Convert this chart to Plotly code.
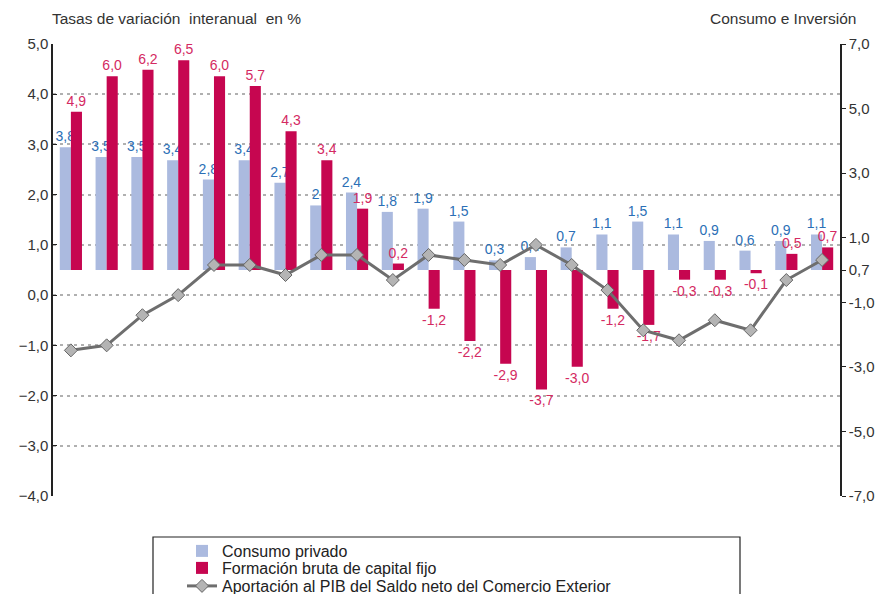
import plotly.graph_objects as go

categories = [str(i) for i in range(1, 23)]
consumo = [3.8, 3.5, 3.5, 3.4, 2.8, 3.4, 2.7, 2.0, 2.4, 1.8, 1.9, 1.5, 0.3, 0.4, 0.7, 1.1, 1.5, 1.1, 0.9, 0.6, 0.9, 1.1]
consumo_labels = ["3,8", "3,5", "3,5", "3,4", "2,8", "3,4", "2,7", "2", "2,4", "1,8", "1,9", "1,5", "0,3", "0,4", "0,7", "1,1", "1,5", "1,1", "0,9", "0,6", "0,9", "1,1"]
fbcf = [4.9, 6.0, 6.2, 6.5, 6.0, 5.7, 4.3, 3.4, 1.9, 0.2, -1.2, -2.2, -2.9, -3.7, -3.0, -1.2, -1.7, -0.3, -0.3, -0.1, 0.5, 0.7]
aportacion = [-1.1, -1.0, -0.4, 0.0, 0.6, 0.6, 0.4, 0.8, 0.8, 0.3, 0.8, 0.7, 0.6, 1.0, 0.6, 0.1, -0.7, -0.9, -0.5, -0.7, 0.3, 0.7]

left_ticks = [-4, -3, -2, -1, 0, 1, 2, 3, 4, 5]
right_ticks = [-7, -5, -3, -1, 0, 1, 3, 5, 7]
right_ticktext = ["-7,0", "-5,0", "-3,0", "-1,0", "0,7", "1,0", "3,0", "5,0", "7,0"]

FONT = "Liberation Sans, Arial, sans-serif"
W, H = 884, 594
L, R, T, B = 53, 44, 44, 98
pw, ph = W - L - R, H - T - B

def px_x(x):
    return (x - L) / pw

def px_y(y):
    return (H - B - y) / ph

fig = go.Figure()
fig.add_trace(go.Bar(
    x=categories, y=consumo, name="Consumo privado",
    marker=dict(color="#abbadf", line=dict(width=0)),
    text=consumo_labels, textposition="outside", constraintext="none",
    textfont=dict(color="#2b6fb6", size=14, family=FONT),
    cliponaxis=False, yaxis="y", legend="legend",
))
fig.add_trace(go.Bar(
    x=categories, y=fbcf, name="Formación bruta de capital fijo",
    marker=dict(color="#c60650", line=dict(width=0)),
    text=[f"{v:.1f}".replace(".", ",") for v in fbcf], textposition="outside", constraintext="none",
    textfont=dict(color="#d42a62", size=14, family=FONT),
    cliponaxis=False, yaxis="y", legend="legend2",
))
fig.add_trace(go.Scatter(
    x=categories, y=aportacion, name="Aportación al PIB del Saldo neto del Comercio Exterior",
    mode="lines+markers",
    line=dict(color="#6e6e6e", width=3),
    marker=dict(symbol="diamond", size=10, color="#b4b4b4", line=dict(color="#666666", width=1)),
    yaxis="y2", cliponaxis=False, legend="legend3",
))

leg_common = dict(
    xanchor="left", yanchor="middle",
    bgcolor="rgba(0,0,0,0)", borderwidth=0,
    font=dict(size=16, color="#222222", family=FONT),
    itemwidth=30,
)

fig.update_layout(
    width=W, height=H,
    margin=dict(l=L, r=R, t=T, b=B, autoexpand=False),
    paper_bgcolor="white", plot_bgcolor="white",
    separators=",.",
    font=dict(family=FONT, color="#333333", size=15),
    barmode="group", bargap=0.38, bargroupgap=0.0,
    xaxis=dict(range=[-0.5, len(categories) - 0.5], autorange=False,
               showticklabels=False, showgrid=False, zeroline=False, showline=False, ticks=""),
    yaxis=dict(
        side="right", range=[-7, 7], tickvals=right_ticks, ticktext=right_ticktext,
        showgrid=False, zeroline=False, showline=True, linecolor="#222222", linewidth=1.5,
        ticks="outside", ticklen=4, tickcolor="#222222",
        tickfont=dict(size=15, color="#333333"),
    ),
    yaxis2=dict(
        overlaying="y", side="left", range=[-4, 5], tickvals=left_ticks,
        tickformat=".1f",
        showgrid=True, gridcolor="#b0b0b0", gridwidth=1.5, griddash="3px,4px",
        zeroline=False, showline=True, linecolor="#222222", linewidth=1.5,
        ticks="inside", ticklen=4, tickcolor="#222222",
        tickfont=dict(size=15, color="#333333"),
    ),
    showlegend=True,
    legend=dict(x=px_x(182), y=px_y(551), **leg_common),
    legend2=dict(x=px_x(182), y=px_y(568), **leg_common),
    legend3=dict(x=px_x(182), y=px_y(586), **leg_common),
    shapes=[dict(
        type="rect", xref="paper", yref="paper",
        x0=px_x(153), x1=px_x(740), y0=px_y(537), y1=px_y(605),
        line=dict(color="#222222", width=1.2), fillcolor="rgba(0,0,0,0)",
    )],
    annotations=[
        dict(text="Tasas de variación\u00a0 interanual\u00a0 en %", xref="paper", yref="paper",
             x=px_x(50), y=px_y(18), xanchor="left", yanchor="middle", showarrow=False,
             font=dict(size=15.5, color="#333333")),
        dict(text="Consumo e Inversión", xref="paper", yref="paper",
             x=px_x(858), y=px_y(18), xanchor="right", yanchor="middle", showarrow=False,
             font=dict(size=15.5, color="#333333")),
    ],
)

fig.write_html(
    "out.html",
    config={"displayModeBar": False},
    post_script="document.body.style.margin='0px';document.body.style.overflow='hidden';",
)
